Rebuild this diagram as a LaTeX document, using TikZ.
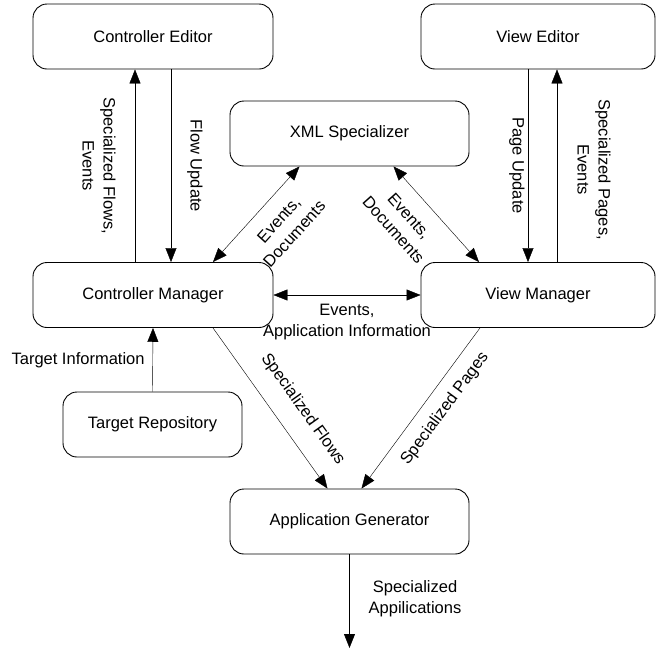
\documentclass[tikz,border=0pt]{standalone}
\usepackage{fontspec}
\setmainfont{Liberation Sans}
\usetikzlibrary{arrows.meta}

\begin{document}
\begin{tikzpicture}[x=1pt,y=1pt,>={Triangle[length=14pt,width=11pt]},
  box/.style={draw,rounded corners=14pt,line width=0.9pt,minimum height=65pt,
    font=\fontsize{16.5}{21}\selectfont},
  lbl/.style={font=\fontsize{16.5}{21}\selectfont,align=center,inner sep=2pt}]
  \useasboundingbox (0,0) rectangle (657,-649);

  % the boxes
  \node[box,minimum width=240pt] (ctrleditor) at (153,-36.5) {Controller Editor};
  \node[box,minimum width=234pt] (vieweditor) at (538,-36.5) {View Editor};
  \node[box,minimum width=239pt] (xmlspec) at (349.5,-133.5) {XML Specializer};
  \node[box,minimum width=240pt] (ctrlmgr) at (153,-295) {Controller Manager};
  \node[box,minimum width=234pt] (viewmgr) at (538,-295) {View Manager};
  \node[box,minimum width=179pt] (targetrepo) at (152.5,-424.5) {Target Repository};
  \node[box,minimum width=239pt] (appgen) at (349.5,-521.5) {Application Generator};
  \coordinate (appout) at (349.5,-648);

  % editors <-> managers
  \draw[->] ([xshift=-18pt]ctrlmgr.north) -- ([xshift=-18pt]ctrleditor.south)
    node[lbl,midway,xshift=-36pt,rotate=-90] {Specialized Flows,\\Events};
  \draw[->] ([xshift=18pt]ctrleditor.south) -- ([xshift=18pt]ctrlmgr.north)
    node[lbl,midway,xshift=24pt,rotate=-90] {Flow Update};
  \draw[->] ([xshift=-10pt]vieweditor.south) -- ([xshift=-10pt]viewmgr.north)
    node[lbl,midway,xshift=-11pt,rotate=-90] {Page Update};
  \draw[->] ([xshift=19pt]viewmgr.north) -- ([xshift=19pt]vieweditor.south)
    node[lbl,midway,xshift=37pt,yshift=-4pt,rotate=-90] {Specialized Pages,\\Events};

  % specializer
  \draw[<->] ([xshift=60pt]ctrlmgr.north) -- ([xshift=-50pt]xmlspec.south)
    node[lbl,pos=0.585,sloped,below,inner sep=14.5pt] {Events,\\Documents};
  \draw[<->] ([xshift=44pt]xmlspec.south) -- ([xshift=-59pt]viewmgr.north)
    node[lbl,pos=0.37,sloped,below,inner sep=15.5pt] {Events,\\Documents};

  % managers
  \draw[<->] (ctrlmgr.east) -- (viewmgr.west)
    node[lbl,midway,below,inner sep=9pt] {Events,\\Application Information};
  \draw[->] (targetrepo.north) -- (ctrlmgr.south)
    node[lbl,midway,left=6pt] {Target Information};

  % generator
  \draw[->] ([xshift=60pt]ctrlmgr.south) -- ([xshift=-22pt]appgen.north)
    node[lbl,pos=0.6,sloped,above,inner sep=18pt] {Specialized Flows};
  \draw[->] ([xshift=-58pt]viewmgr.south) -- ([xshift=12pt]appgen.north)
    node[lbl,pos=0.43,sloped,below,inner sep=12pt] {Specialized Pages};
  \draw[->] (appgen.south) -- (appout)
    node[lbl,pos=0.47,right=17pt] {Specialized\\Appilications};
\end{tikzpicture}
\end{document}
